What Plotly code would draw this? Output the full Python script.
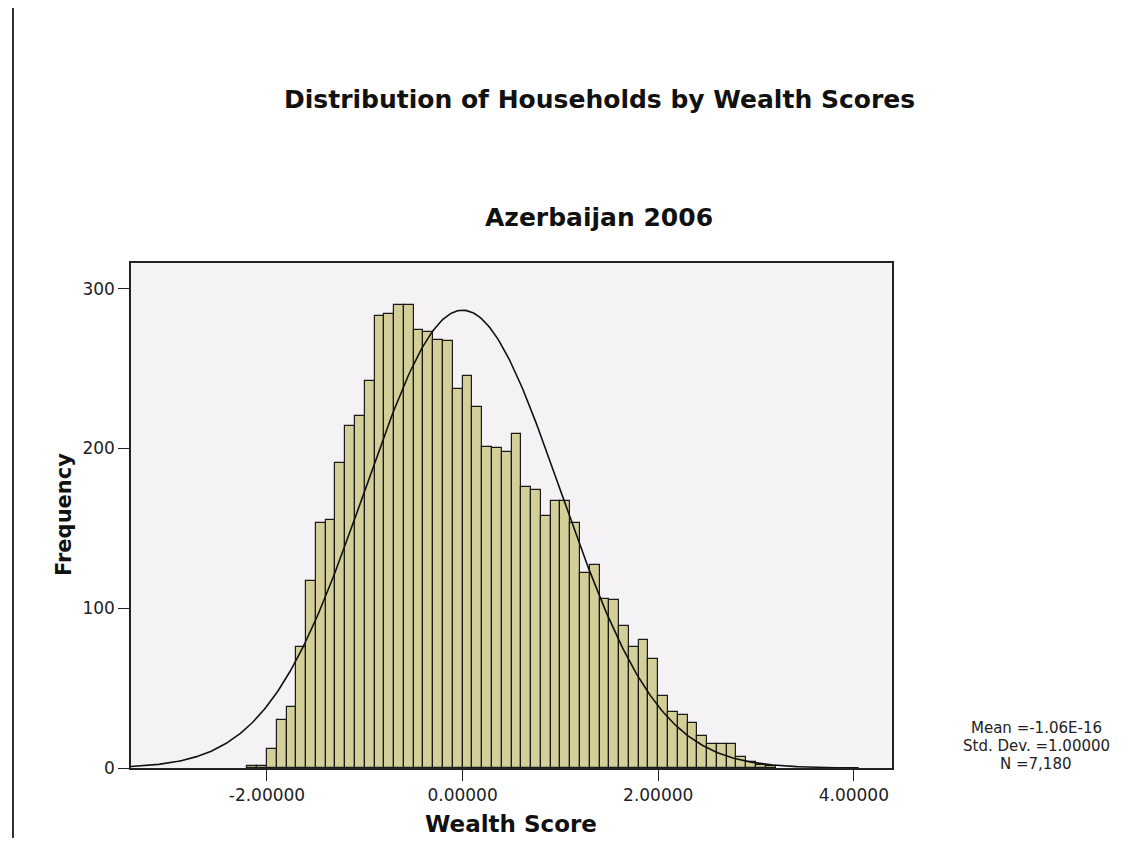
import numpy as np
import plotly.graph_objects as go

# ---- data ----
bin_starts = [round(-2.2 + 0.1 * i, 1) for i in range(54)]
counts = [1, 1, 12, 30, 38, 76, 117, 153, 155, 191,
          214, 220, 242, 283, 284, 290, 290, 274, 273, 268,
          267, 237, 245, 226, 201, 200, 198, 209, 176, 174,
          158, 167, 167, 153, 122, 127, 106, 105, 89, 76,
          80, 68, 45, 35, 33, 28, 20, 15, 15, 15,
          7, 4, 2, 1]
bin_width = 0.1
stat_mean = -1.06e-16
stat_sd = 1.0
stat_n = 7180
x_tick_vals = [-2, 0, 2, 4]
x_tick_text = ["-2.00000", "0.00000", "2.00000", "4.00000"]
y_tick_vals = [0, 100, 200, 300]
title_main = "Distribution of Households by Wealth Scores"
title_sub = "Azerbaijan 2006"
x_title = "Wealth Score"
y_title = "Frequency"
stats_lines = ["Mean =-1.06E-16", "Std. Dev. =1.00000", "N =7,180"]

# ---- layout geometry (page pixels; the page body has an 8px margin) ----
OFF = 8
W, H = 1131 - 2 * OFF, 846 - 2 * OFF
L, R, T, B = 131 - OFF, 892 - OFF, 263 - OFF, 768 - OFF
pw, ph = R - L, B - T

def px(xp):
    return (xp - OFF - L) / pw

def py(yp):
    return (B - (yp - OFF)) / ph

centers = [s + bin_width / 2 for s in bin_starts]

# normal curve from the stated statistics
xs = np.linspace(-3.39, 4.05, 400)
ys = stat_n * bin_width / (stat_sd * np.sqrt(2 * np.pi)) * np.exp(-0.5 * ((xs - stat_mean) / stat_sd) ** 2)

FONT = "DejaVu Sans"

fig = go.Figure()
fig.add_trace(go.Bar(
    x=centers, y=counts, width=bin_width,
    marker=dict(color="#D4CF98", line=dict(color="#1a1a1a", width=1.2)),
    showlegend=False, hoverinfo="x+y",
))
fig.add_trace(go.Scatter(
    x=xs, y=ys, mode="lines",
    line=dict(color="#111111", width=1.6),
    showlegend=False, hoverinfo="skip",
))

annotations = [
    dict(text="<b>%s</b>" % title_main, xref="paper", yref="paper", x=px(599), y=py(100),
         xanchor="center", yanchor="middle", showarrow=False,
         font=dict(family=FONT, size=25, color="#111111")),
    dict(text="<b>%s</b>" % title_sub, xref="paper", yref="paper", x=px(599), y=py(218),
         xanchor="center", yanchor="middle", showarrow=False,
         font=dict(family=FONT, size=25, color="#111111")),
    dict(text="<b>%s</b>" % x_title, xref="paper", yref="paper", x=px(511), y=py(824),
         xanchor="center", yanchor="middle", showarrow=False,
         font=dict(family=FONT, size=23, color="#111111")),
    dict(text="<b>%s</b>" % y_title, xref="paper", yref="paper", x=px(64), y=py(515),
         xanchor="center", yanchor="middle", showarrow=False, textangle=-90,
         font=dict(family=FONT, size=21, color="#111111")),
]
for i, line in enumerate(stats_lines):
    annotations.append(dict(text=line, xref="paper", yref="paper", x=px(1036), y=py(728 + 18 * i),
                            xanchor="center", yanchor="middle", showarrow=False,
                            font=dict(family=FONT, size=15, color="#222222")))

fig.update_layout(
    width=W, height=H,
    margin=dict(l=L, r=W - R, t=T, b=H - B, pad=0),
    paper_bgcolor="white",
    plot_bgcolor="#F5F2F5",
    bargap=0,
    font=dict(family=FONT, color="#222222", size=16),
    xaxis=dict(
        range=[-3.39, 4.39], tickmode="array", tickvals=x_tick_vals, ticktext=x_tick_text,
        ticks="outside", ticklen=11, tickwidth=1.2, tickcolor="#222222",
        showline=True, linecolor="#222222", linewidth=1.5, mirror=True,
        showgrid=False, zeroline=False, tickfont=dict(size=17, family=FONT, color="#222222"),
    ),
    yaxis=dict(
        range=[0, 316], tickmode="array", tickvals=y_tick_vals,
        ticks="outside", ticklen=11, tickwidth=1.2, tickcolor="#222222",
        showline=True, linecolor="#222222", linewidth=1.5, mirror=True,
        showgrid=False, zeroline=False, tickfont=dict(size=17, family=FONT, color="#222222"),
    ),
    annotations=annotations,
    shapes=[
        dict(type="line", xref="paper", yref="paper", x0=px(13), x1=px(13), y0=py(8), y1=py(846),
             line=dict(color="#333333", width=2)),
    ],
)

fig.write_html("out.html")
